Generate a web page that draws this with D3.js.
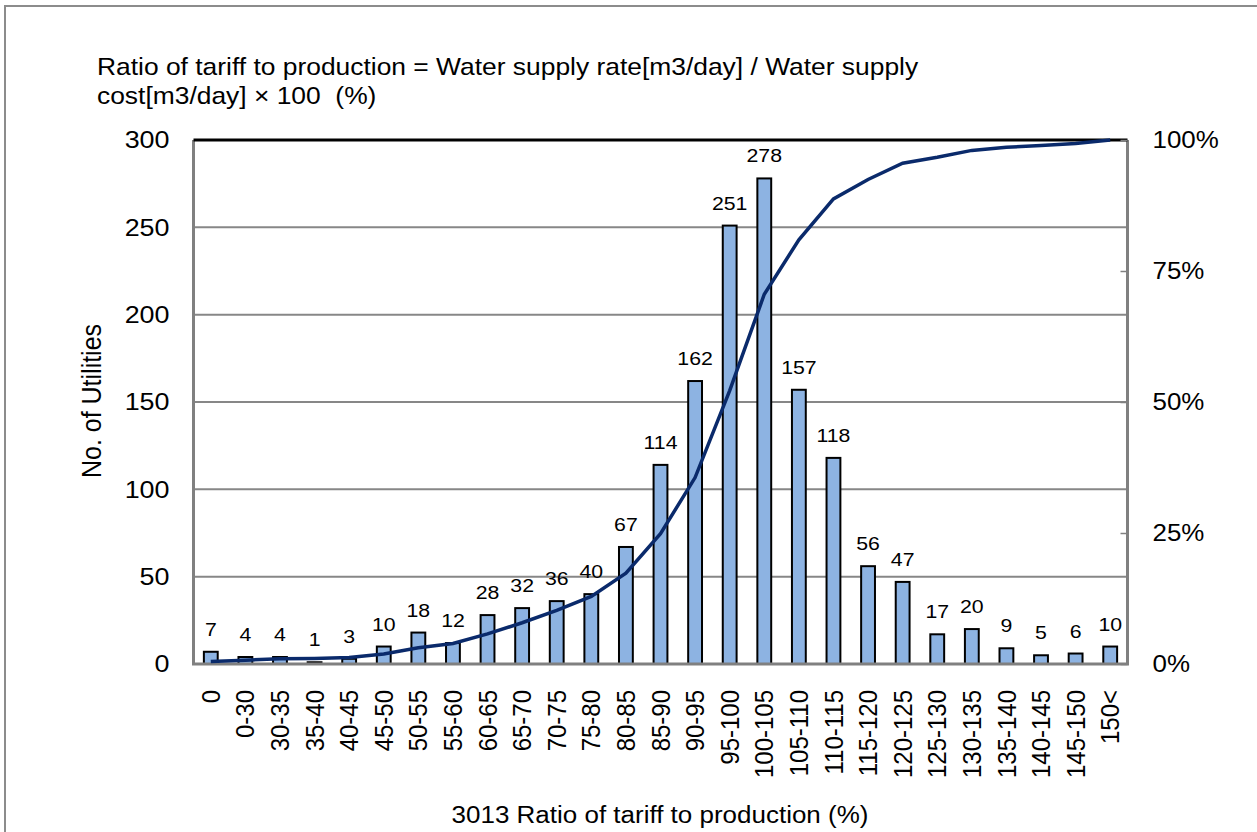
<!DOCTYPE html>
<html>
<head>
  <meta charset="UTF-8">
  <script src="https://cdn.jsdelivr.net/npm/d3@7"></script>
  <style>
    body { margin: 0; background: #fff; }
    text { font-family: "Liberation Sans", Arial, sans-serif; fill: #000; }
  </style>
</head>
<body>
<svg width="1257" height="832"></svg>
<script>
  // ranges of the ratio (%)
  var categories = ["0", "0-30", "30-35", "35-40", "40-45", "45-50", "50-55", "55-60",
    "60-65", "65-70", "70-75", "75-80", "80-85", "85-90", "90-95", "95-100",
    "100-105", "105-110", "110-115", "115-120", "120-125", "125-130", "130-135",
    "135-140", "140-145", "145-150", "150<"];

  // number of utilities in each range
  var counts = [7, 4, 4, 1, 3, 10, 18, 12, 28, 32, 36, 40, 67, 114, 162, 251,
    278, 157, 118, 56, 47, 17, 20, 9, 5, 6, 10];

  var leftTicks = [0, 50, 100, 150, 200, 250, 300];
  var rightTicks = [0, 0.25, 0.5, 0.75, 1];

  // cumulative share for the line
  var total = d3.sum(counts);
  var running = 0;
  var cumulative = counts.map(function(c) { running += c; return running / total; });

  var plot = { left: 193.5, right: 1127.5, top: 140, bottom: 664 };
  var sx = 1.12; // the source text is a bit wide

  var svg = d3.select("svg");

  // outer frame
  svg.append("rect")
      .attr("x", 5).attr("y", 6)
      .attr("width", 1270).attr("height", 850)
      .attr("fill", "none")
      .attr("stroke", "#8c8c8c")
      .attr("stroke-width", 2);

  var x = d3.scaleBand().domain(categories).range([plot.left, plot.right]).paddingInner(0.6).paddingOuter(0.3);
  var y = d3.scaleLinear().domain([0, 300]).range([plot.bottom, plot.top]);
  var y2 = d3.scaleLinear().domain([0, 1]).range([plot.bottom, plot.top]);

  function cx(i) { return x(categories[i]) + x.bandwidth() / 2; }

  // gridlines
  svg.append("g")
      .selectAll("line").data(leftTicks.slice(1, -1)).enter()
      .append("line")
      .attr("x1", plot.left).attr("x2", plot.right)
      .attr("y1", function(d) { return y(d); })
      .attr("y2", function(d) { return y(d); })
      .attr("stroke", "#878787")
      .attr("stroke-width", 2);

  // bars
  svg.append("g")
      .selectAll("rect").data(counts).enter()
      .append("rect")
      .attr("x", function(d, i) { return x(categories[i]); })
      .attr("y", function(d) { return y(d); })
      .attr("width", x.bandwidth())
      .attr("height", function(d) { return plot.bottom - y(d); })
      .attr("fill", "#8db3e2")
      .attr("stroke", "#000")
      .attr("stroke-width", 2);

  // value labels
  svg.append("g")
      .selectAll("text").data(counts).enter()
      .append("text")
      .attr("transform", function(d, i) { return "translate(" + cx(i) + "," + (y(d) - 16) + ") scale(" + sx + ",1)"; })
      .attr("text-anchor", "middle")
      .style("font-size", "19px")
      .text(function(d) { return d; });

  // axes frame: left, bottom, right grey, top black
  var frame = svg.append("g").attr("fill", "none");
  frame.append("path")
      .attr("d", ["M", plot.left, plot.top, "L", plot.left, plot.bottom, "L", plot.right, plot.bottom, "L", plot.right, plot.top].join(" "))
      .attr("stroke", "#808080")
      .attr("stroke-width", 3);
  frame.append("line")
      .attr("x1", plot.left).attr("x2", plot.right)
      .attr("y1", plot.top).attr("y2", plot.top)
      .attr("stroke", "#000")
      .attr("stroke-width", 3);

  // cumulative line
  var line = d3.line()
      .x(function(d, i) { return cx(i); })
      .y(function(d) { return y2(d); });

  svg.append("path")
      .datum(cumulative)
      .attr("d", line)
      .attr("fill", "none")
      .attr("stroke", "#0a2a6b")
      .attr("stroke-width", 3.5);

  // left axis
  var leftAxis = svg.append("g")
      .attr("transform", "translate(" + plot.left + ",0)")
      .call(d3.axisLeft(y).tickValues(leftTicks).tickSize(0).tickPadding(0));
  leftAxis.select(".domain").remove();
  leftAxis.selectAll("text")
      .attr("font-family", null)
      .style("font-size", "24px")
      .attr("x", 0)
      .attr("transform", "translate(-24,0) scale(" + sx + ",1)");

  // right axis
  var rightAxis = svg.append("g")
      .attr("transform", "translate(" + plot.right + ",0)")
      .call(d3.axisRight(y2).tickValues(rightTicks).tickFormat(d3.format(".0%")).tickSize(0).tickPadding(0));
  rightAxis.select(".domain").remove();
  rightAxis.selectAll("text")
      .attr("font-family", null)
      .style("font-size", "24px")
      .attr("x", 0)
      .attr("transform", "translate(25,0) scale(" + (sx - 0.04) + ",1)");
  rightAxis.selectAll(".tick").append("line")
      .attr("x1", -7).attr("x2", 0)
      .attr("stroke", "#808080")
      .attr("stroke-width", 1.5);

  // category labels
  var bottomAxis = svg.append("g")
      .attr("transform", "translate(0," + plot.bottom + ")")
      .call(d3.axisBottom(x).tickSize(0));
  bottomAxis.select(".domain").remove();
  bottomAxis.selectAll("text")
      .attr("font-family", null)
      .style("font-size", "24px")
      .attr("text-anchor", "end")
      .attr("transform", "translate(0,26) scale(1.08,1) rotate(-90)")
      .attr("x", 0)
      .attr("y", 0)
      .attr("dy", "0.35em");

  // titles
  var title = svg.append("text")
      .attr("transform", "translate(97,75) scale(1.1,1)")
      .style("font-size", "24px")
      .style("white-space", "pre");
  title.append("tspan").attr("x", 0).text("Ratio of tariff to production = Water supply rate[m3/day] / Water supply");
  title.append("tspan").attr("x", 0).attr("dy", 29).text("cost[m3/day] \u00d7 100  (%)");

  svg.append("text")
      .attr("transform", "translate(101,401) scale(1.08,1) rotate(-90)")
      .attr("text-anchor", "middle")
      .style("font-size", "25px")
      .text("No. of Utilities");

  svg.append("text")
      .attr("transform", "translate(660,823) scale(1.13,1)")
      .attr("text-anchor", "middle")
      .style("font-size", "23px")
      .text("3013 Ratio of tariff to production (%)");
</script>
</body>
</html>
